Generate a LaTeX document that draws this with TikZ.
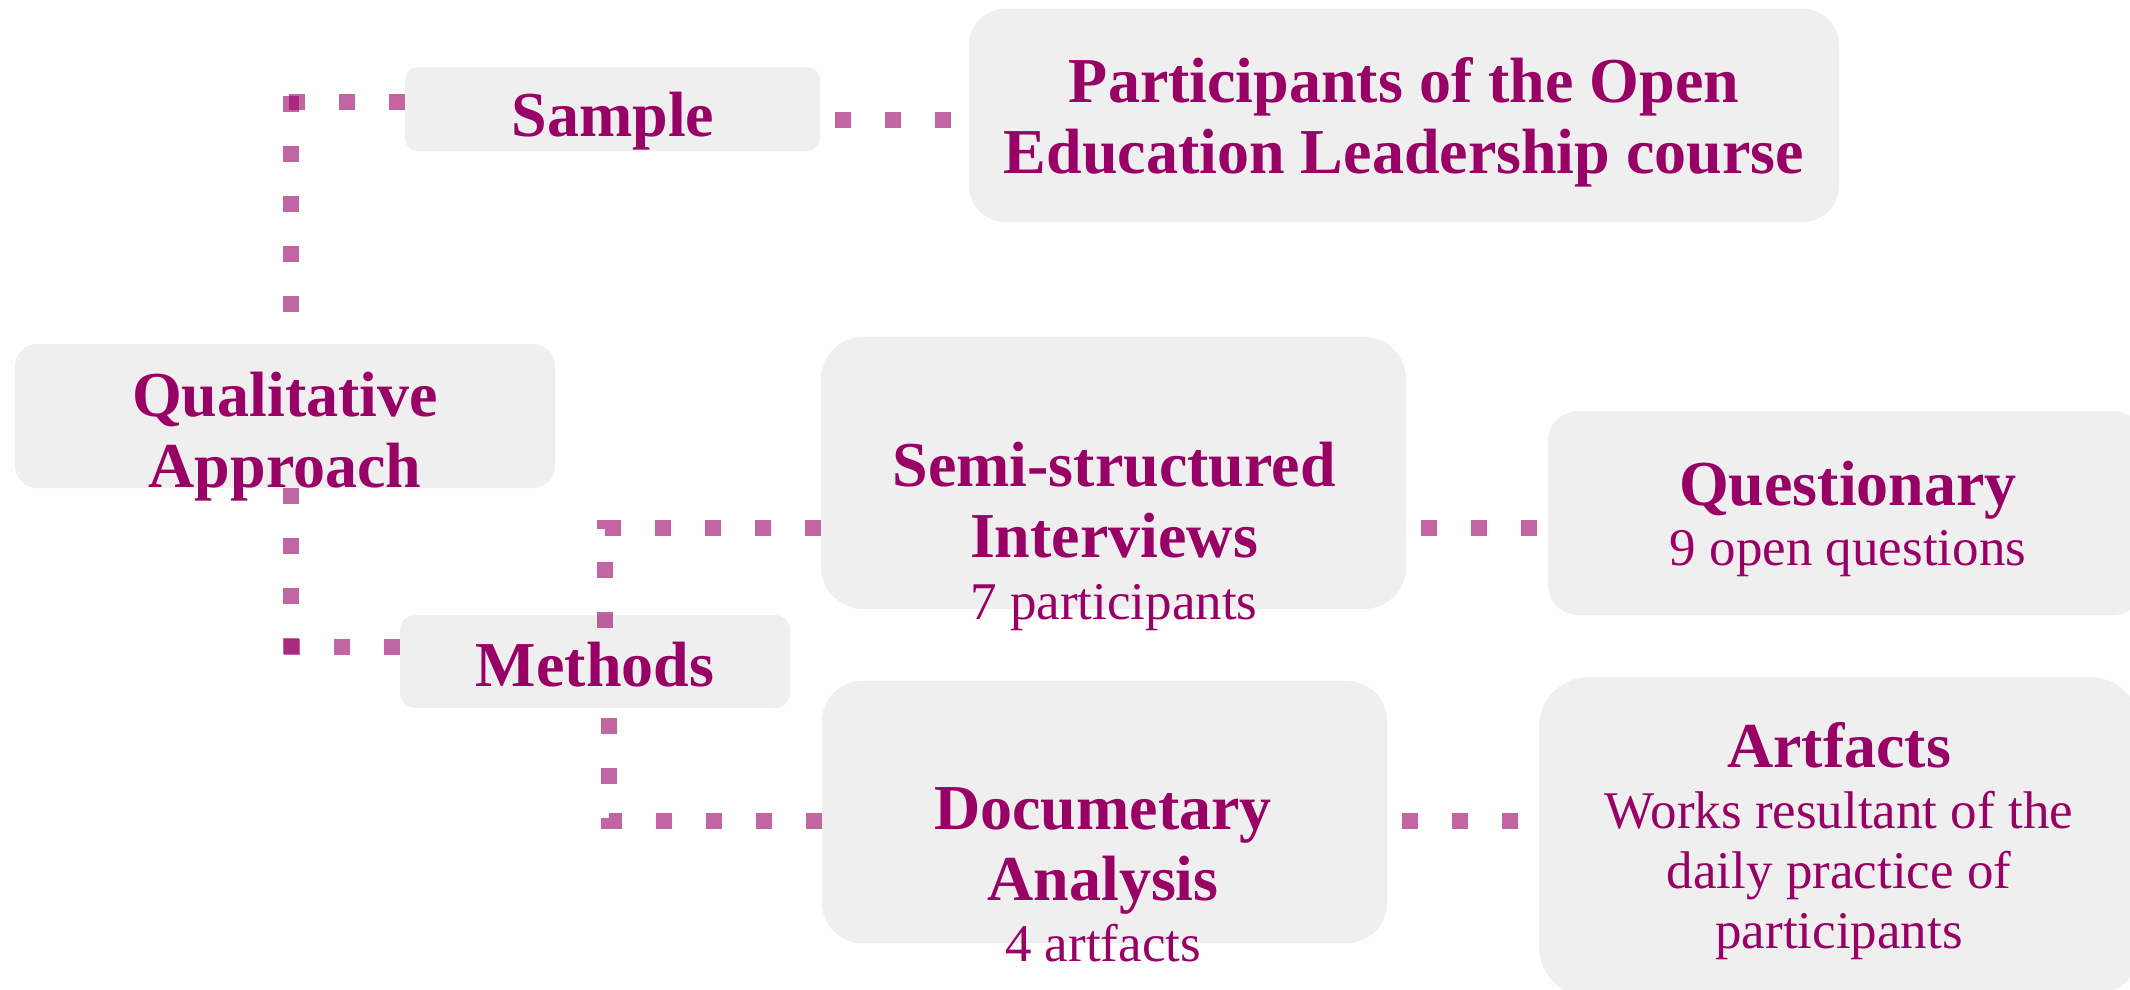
\documentclass[tikz,border=0pt]{standalone}
\usepackage{fontspec}
\setmainfont{Liberation Serif}
\usetikzlibrary{fit}
\definecolor{plum}{HTML}{990066}
\definecolor{boxgray}{HTML}{EFEFEF}
\begin{document}
\begin{tikzpicture}[x=0.5pt,y=-0.5pt,
  box/.style={fill=boxgray,draw=none,inner sep=0pt},
  title/.style={text=plum,align=center,inner sep=0pt,anchor=base,
    font=\fontsize{32pt}{35.5pt}\selectfont\bfseries},
  subtitle/.style={text=plum,align=center,inner sep=0pt,anchor=base,
    font=\fontsize{26.5pt}{30pt}\selectfont},
  conn/.style={draw=plum,draw opacity=0.6,line width=8pt,
    dash pattern=on 8pt off 17pt},
  phased/.style={conn,dash phase=17.5pt}]
\useasboundingbox (0,0) rectangle (2130,990);

% boxes
\node[box,rounded corners=6.5pt,fit={(405,67) (820,151)}] (sample) {};
\node[box,rounded corners=18pt,fit={(969,9) (1839,222)}] (part) {};
\node[box,rounded corners=11pt,fit={(15,344) (555,488)}] (qual) {};
\node[box,rounded corners=7.5pt,fit={(400,615) (790,708)}] (methods) {};
\node[box,rounded corners=21pt,fit={(821,337) (1406,609)}] (semi) {};
\node[box,rounded corners=20pt,fit={(822,681) (1387,943)}] (doc) {};
\node[box,rounded corners=15pt,fit={(1548,411) (2143,615)}] (quest) {};
\node[box,rounded corners=25pt,fit={(1539,677) (2140,997)}] (art) {};

% elbow corners left of the approach box
\coordinate (qs) at (291,102);
\coordinate (qm) at (291,647);

% connectors
\draw[conn] (qs -| sample.west) -- ([xshift=-4pt]qs);
\draw[conn] ([yshift=3pt]qs) -- (qs |- qual.north);
\draw[conn] (qual.south -| qm) -- ([yshift=-4pt]qm);
\draw[conn] (qm -| methods.west) -- ([xshift=-4pt]qm);
\draw[conn] ([yshift=-27.5pt]semi.west) -| ([xshift=5pt,yshift=-8pt]methods.north);
\draw[conn] ([yshift=-4.5pt]doc.west) -| ([xshift=7pt]methods.south);
\draw[phased] ([yshift=-5.5pt]sample.east) -- ([yshift=-5.5pt]sample.east -| part.west);
\draw[phased] ([yshift=-27.5pt]semi.east) -- ([yshift=-27.5pt]semi.east -| quest.west);
\draw[phased] ([yshift=-4.5pt]doc.east) -- ([yshift=-4.5pt]doc.east -| art.west);

% labels (multi-line nodes sit on the baseline of their last line)
\node[title] (sampleT) at (613,137) {Sample};
\node[title] (partT) at (1404,173) {Participants of the Open\\Education Leadership course};
\node[title] (qualT) at (285,487) {Qualitative\\Approach};
\node[title] (methodsT) at (595,686) {Methods};
\node[title] (semiT) at (1114,557) {Semi-structured\\Interviews};
\node[subtitle] (semiS) at (1114,619) {7 participants};
\node[title] (questT) at (1848,505) {Questionary};
\node[subtitle] (questS) at (1848,565) {9 open questions};
\node[title] (docT) at (1103,900) {Documetary\\Analysis};
\node[subtitle] (docS) at (1103,961) {4 artfacts};
\node[title] (artT) at (1839,767) {Artfacts};
\node[subtitle] (artS) at (1839,948) {Works resultant of the\\daily practice of\\participants};
\end{tikzpicture}
\end{document}
